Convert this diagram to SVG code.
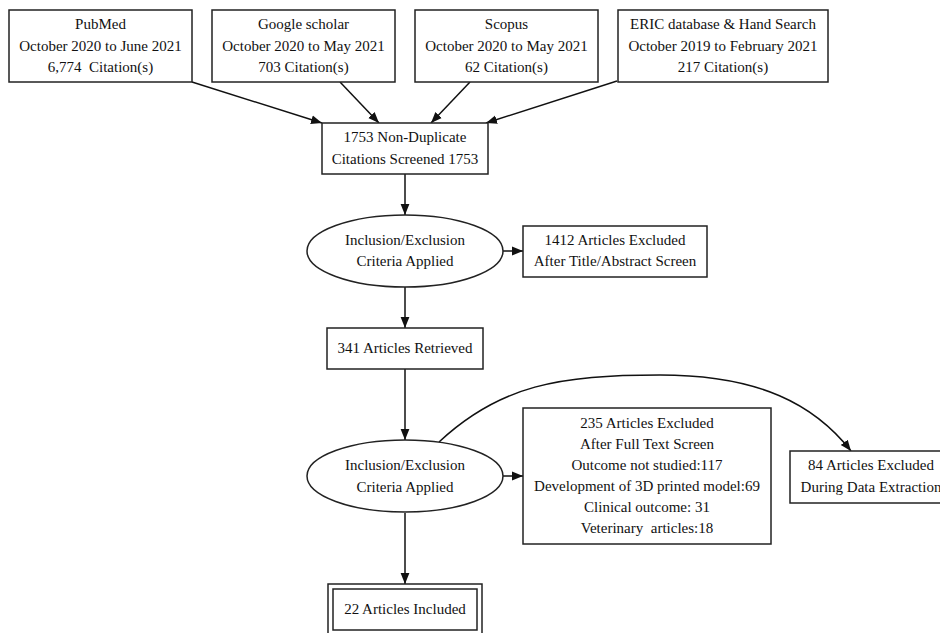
<svg xmlns="http://www.w3.org/2000/svg" width="940" height="633" viewBox="0 0 940 633">
<defs>
<marker id="ah" viewBox="0 0 10 10" refX="10" refY="5" markerWidth="11" markerHeight="11" markerUnits="userSpaceOnUse" orient="auto">
<path d="M0,1 L10,5 L0,9 Z" fill="#111"/>
</marker>
<style>
.n{fill:#fff;stroke:#222;stroke-width:1.5}
.t{font-family:"Liberation Serif","Times New Roman",serif;font-size:15px;fill:#111;text-anchor:middle;white-space:pre}
.e{fill:none;stroke:#111;stroke-width:1.5;marker-end:url(#ah)}
</style>
</defs>
<rect width="940" height="633" fill="#fff"/>
<g id="edges">
<line class="e" x1="192" y1="82" x2="322" y2="123"/>
<line class="e" x1="340" y1="82" x2="379" y2="123"/>
<line class="e" x1="470" y1="82" x2="431" y2="123"/>
<line class="e" x1="617" y1="81" x2="486" y2="123"/>
<line class="e" x1="405" y1="174" x2="405" y2="215"/>
<line class="e" x1="503" y1="251" x2="523" y2="251"/>
<line class="e" x1="405" y1="287" x2="405" y2="328"/>
<line class="e" x1="405" y1="369" x2="405" y2="440"/>
<line class="e" x1="503" y1="476" x2="523" y2="476"/>
<line class="e" x1="405" y1="513" x2="405" y2="584"/>
<path class="e" d="M439,442 C500,385 560,375 660,375 C760,375 815,405 851,451"/>
</g>
<g id="pubmed">
<rect class="n" x="9" y="10" width="183" height="72"/>
<text class="t" x="100.5" y="29">PubMed</text>
<text class="t" x="100.5" y="51">October 2020 to June 2021</text>
<text class="t" x="100.5" y="72" xml:space="preserve">6,774  Citation(s)</text>
</g>
<g id="google">
<rect class="n" x="212" y="10" width="183" height="72"/>
<text class="t" x="303.5" y="29">Google scholar</text>
<text class="t" x="303.5" y="51">October 2020 to May 2021</text>
<text class="t" x="303.5" y="72">703 Citation(s)</text>
</g>
<g id="scopus">
<rect class="n" x="415" y="10" width="183" height="72"/>
<text class="t" x="506.5" y="29">Scopus</text>
<text class="t" x="506.5" y="51">October 2020 to May 2021</text>
<text class="t" x="506.5" y="72">62 Citation(s)</text>
</g>
<g id="eric">
<rect class="n" x="618" y="10" width="210" height="72"/>
<text class="t" x="723" y="29">ERIC database &amp; Hand Search</text>
<text class="t" x="723" y="51">October 2019 to February 2021</text>
<text class="t" x="723" y="72">217 Citation(s)</text>
</g>
<g id="screened">
<rect class="n" x="322" y="123" width="166" height="51"/>
<text class="t" x="405" y="142">1753 Non-Duplicate</text>
<text class="t" x="405" y="164">Citations Screened 1753</text>
</g>
<g id="criteria1">
<ellipse class="n" cx="405" cy="251" rx="98" ry="36"/>
<text class="t" x="405" y="245">Inclusion/Exclusion</text>
<text class="t" x="405" y="266">Criteria Applied</text>
</g>
<g id="excluded1412">
<rect class="n" x="523" y="226" width="184" height="51"/>
<text class="t" x="615" y="245">1412 Articles Excluded</text>
<text class="t" x="615" y="266">After Title/Abstract Screen</text>
</g>
<g id="retrieved">
<rect class="n" x="327" y="328" width="156" height="41"/>
<text class="t" x="405" y="353">341 Articles Retrieved</text>
</g>
<g id="criteria2">
<ellipse class="n" cx="405" cy="476" rx="98" ry="36"/>
<text class="t" x="405" y="470">Inclusion/Exclusion</text>
<text class="t" x="405" y="492">Criteria Applied</text>
</g>
<g id="excluded235">
<rect class="n" x="523" y="408" width="248" height="136"/>
<text class="t" x="647" y="428">235 Articles Excluded</text>
<text class="t" x="647" y="449">After Full Text Screen</text>
<text class="t" x="647" y="470">Outcome not studied:117</text>
<text class="t" x="647" y="491">Development of 3D printed model:69</text>
<text class="t" x="647" y="512">Clinical outcome: 31</text>
<text class="t" x="647" y="533" xml:space="preserve">Veterinary  articles:18</text>
</g>
<g id="excluded84">
<rect class="n" x="790" y="451" width="162" height="52"/>
<text class="t" x="871" y="470">84 Articles Excluded</text>
<text class="t" x="871" y="492">During Data Extraction</text>
</g>
<g id="included">
<rect class="n" x="328" y="584" width="154" height="52"/>
<rect class="n" x="333" y="589" width="144" height="41"/>
<text class="t" x="405" y="614">22 Articles Included</text>
</g>
</svg>
